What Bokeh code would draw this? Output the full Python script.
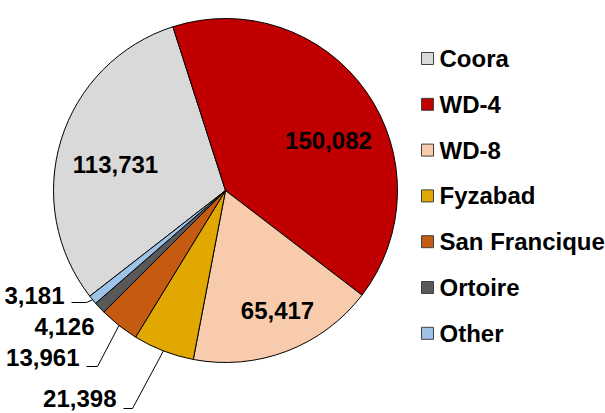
import math
from bokeh.plotting import figure
from bokeh.models import Range1d, ColumnDataSource
from bokeh.core.properties import value
from bokeh.embed import file_html
from bokeh.resources import INLINE

# ---- data ----
names = ["Coora", "WD-4", "WD-8", "Fyzabad", "San Francique", "Ortoire", "Other"]
values = [113731, 150082, 65417, 21398, 13961, 4126, 3181]
colors = ["#D9D9D9", "#C00000", "#F8CBAD", "#E0A800", "#C55A11", "#595959", "#9DC3E6"]

# ---- layout (reference pixel coords, y down) ----
W, H = 605, 413
CX, CY, R = 225, 190, 172
START_DEG = -127.9          # clockwise from 12 o'clock, where first slice begins
FONT = "Liberation Sans"
FS = "24px"

def Y(y):
    return H - y

p = figure(width=W, height=H, x_range=Range1d(0, W), y_range=Range1d(0, H),
           output_backend="svg", toolbar_location=None, min_border=0)
p.axis.visible = False
p.grid.visible = False
p.outline_line_color = None
p.background_fill_color = "white"
p.border_fill_color = "white"

total = float(sum(values))
starts, ends, mids = [], [], []
acc = START_DEG
for v in values:
    a0 = acc
    a1 = acc + 360.0 * v / total
    starts.append(math.radians(90 - a0))
    ends.append(math.radians(90 - a1))
    mids.append((a0 + a1) / 2)
    acc = a1

src = ColumnDataSource(dict(start=starts, end=ends, color=colors, name=names))
p.wedge(x=CX, y=Y(CY), radius=R, start_angle="start", end_angle="end",
        direction="clock", fill_color="color", line_color="black", line_width=1,
        source=src)

def fmt(v):
    return f"{v:,}"

# inside labels: index -> (x, y) centre
inside = {0: (115, 164), 1: (328, 140), 2: (277, 310)}
for i, (lx, ly) in inside.items():
    p.text(x=[lx], y=[Y(ly)], text=[fmt(values[i])], text_font=value(FONT),
           text_font_size=FS, text_font_style="bold", text_align="center",
           text_baseline="middle", text_color="black")

# outside labels: index -> (label right x, label y, bend x, line y or None)
outside = {
    6: (64, 295, 86, 302),
    5: (94, 326, None, None),
    4: (79, 357, 97, 366),
    3: (116, 398, 132, 408),
}
for i, (rx, ry, bx, ly) in outside.items():
    p.text(x=[rx], y=[Y(ry)], text=[fmt(values[i])], text_font=value(FONT),
           text_font_size=FS, text_font_style="bold", text_align="right",
           text_baseline="middle", text_color="black")
    if bx is not None:
        th = math.radians(mids[i])
        ex = CX + R * math.sin(th)
        ey = CY - R * math.cos(th)
        p.line(x=[rx + 7, bx, ex], y=[Y(ly), Y(ly), Y(ey)], line_color="black",
               line_width=1)

# legend
LX, LY0, LDY, SQ = 427, 58, 45.8, 12
for k, (n, c) in enumerate(zip(names, colors)):
    yy = LY0 + k * LDY
    p.rect(x=[LX], y=[Y(yy)], width=SQ, height=SQ, fill_color=c,
           line_color="#404040", line_width=1)
    p.text(x=[LX + 12], y=[Y(yy)], text=[n], text_font=value(FONT),
           text_font_size=FS, text_font_style="bold", text_align="left",
           text_baseline="middle", text_color="black")

open("out.html", "w").write(file_html(p, INLINE))
